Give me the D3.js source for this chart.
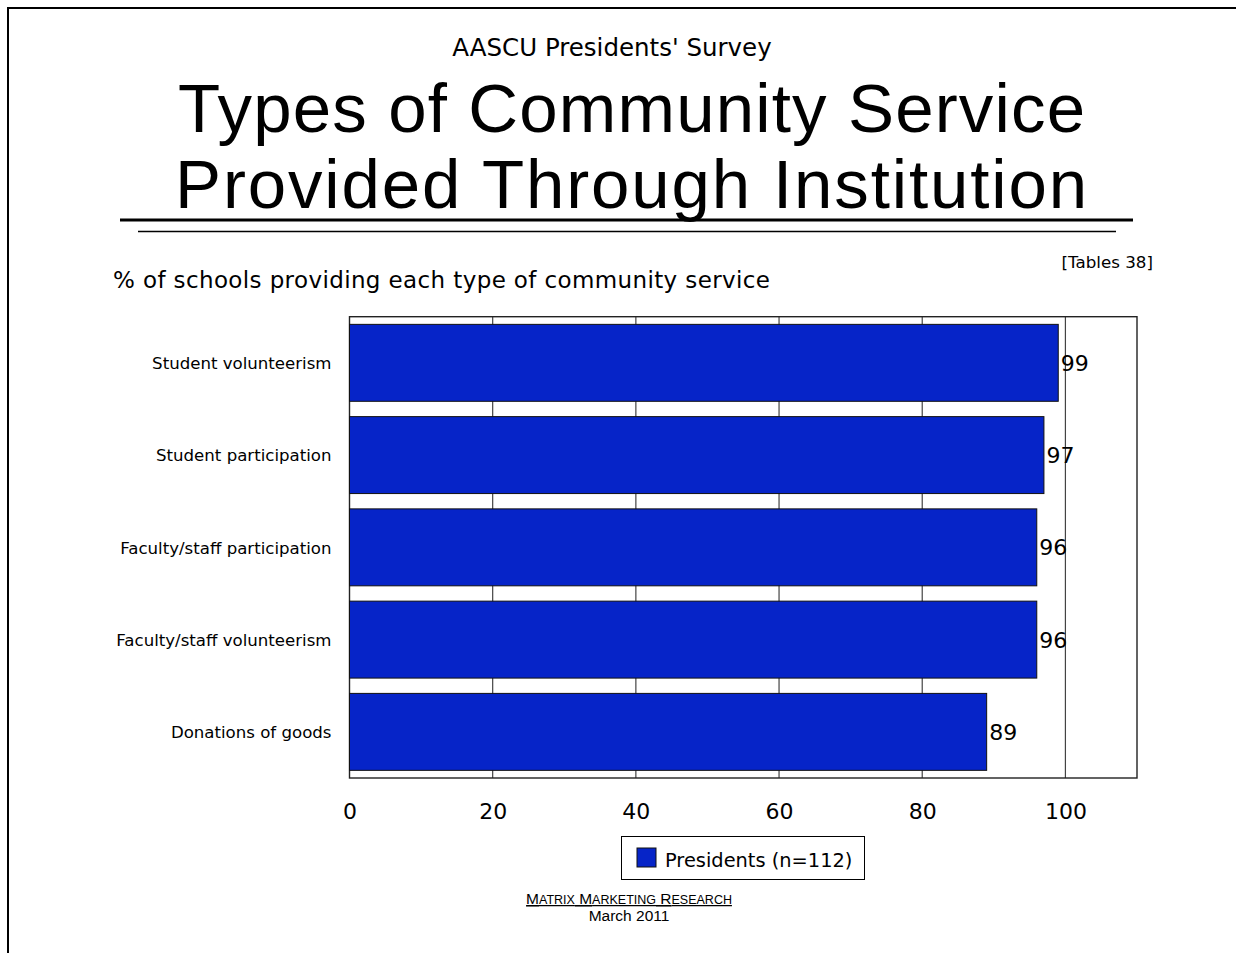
<!DOCTYPE html>
<html>
<head>
<meta charset="utf-8">
<script src="https://cdn.jsdelivr.net/npm/d3@7"></script>
<style>
  html, body { margin: 0; padding: 0; background: #fff; }
  svg { display: block; }
  text { font-family: "DejaVu Sans", Verdana, sans-serif; fill: #000; }
</style>
</head>
<body>
<svg id="chart" width="1236" height="953"></svg>
<script>
// Survey results: share of schools offering each kind of community service
const categories = [
  "Student volunteerism",
  "Student participation",
  "Faculty/staff participation",
  "Faculty/staff volunteerism",
  "Donations of goods"
];
const presidents = [99, 97, 96, 96, 89];
const tickValues = [0, 20, 40, 60, 80, 100];
const seriesName = "Presidents (n=112)";

const svg = d3.select("#chart");
const W = 1236, H = 953;

// Slide frame (top and left edges)
svg.append("path")
  .attr("d", `M8,${H} L8,8 L${W},8`)
  .attr("fill", "none").attr("stroke", "#000").attr("stroke-width", 2);

// Place a text line so that it spans a given width
function fitted(txt, x, y, size, width, family) {
  const t = svg.append("text")
    .attr("x", x).attr("y", y)
    .style("font-size", size + "px")
    .text(txt);
  if (family) t.style("font-family", family);
  const natural = t.node().getComputedTextLength();
  t.attr("textLength", width)
   .attr("lengthAdjust", natural > width ? "spacingAndGlyphs" : "spacing");
  return t;
}

// Headings
svg.append("text")
  .attr("x", 612).attr("y", 56)
  .attr("text-anchor", "middle")
  .style("font-size", "24.5px")
  .text("AASCU Presidents' Survey");

const titleFont = '"Liberation Sans", Arial, sans-serif';
fitted("Types of Community Service", 178, 132, 69, 907, titleFont);
fitted("Provided Through Institution", 175, 208, 69, 912, titleFont);

svg.append("line").attr("x1", 120).attr("x2", 1133).attr("y1", 220).attr("y2", 220)
  .attr("stroke", "#000").attr("stroke-width", 3);
svg.append("line").attr("x1", 138).attr("x2", 1116).attr("y1", 231.5).attr("y2", 231.5)
  .attr("stroke", "#000").attr("stroke-width", 1.5);

svg.append("text")
  .attr("x", 1153).attr("y", 268)
  .attr("text-anchor", "end")
  .style("font-size", "16.7px")
  .text("[Tables 38]");

fitted("% of schools providing each type of community service", 113, 288, 23, 657);

// Plot area
const plot = { left: 349.5, top: 316.7, right: 1137, bottom: 778 };

const x = d3.scaleLinear().domain([0, 110]).range([plot.left, plot.right]);
const y = d3.scaleBand().domain(categories)
  .range([plot.top, plot.bottom])
  .paddingInner(0.166).paddingOuter(0.083);

// Vertical gridlines
svg.append("g").selectAll("line")
  .data(tickValues.filter(d => d > 0))
  .join("line")
  .attr("x1", d => x(d)).attr("x2", d => x(d))
  .attr("y1", plot.top).attr("y2", plot.bottom)
  .attr("stroke", "#444").attr("stroke-width", 1.2);

svg.append("rect")
  .attr("x", plot.left).attr("y", plot.top)
  .attr("width", plot.right - plot.left).attr("height", plot.bottom - plot.top)
  .attr("fill", "none").attr("stroke", "#222").attr("stroke-width", 1.4);

// Bars
svg.append("g").selectAll("rect")
  .data(categories)
  .join("rect")
  .attr("x", x(0))
  .attr("y", d => y(d))
  .attr("width", (d, i) => x(presidents[i]) - x(0))
  .attr("height", y.bandwidth())
  .attr("fill", "#0624C8")
  .attr("stroke", "#111").attr("stroke-width", 1);

// Value labels
svg.append("g").selectAll("text")
  .data(categories)
  .join("text")
  .attr("x", (d, i) => x(presidents[i]) + 2.5)
  .attr("y", d => y(d) + y.bandwidth() / 2)
  .attr("dy", "0.36em")
  .style("font-size", "22px")
  .text((d, i) => presidents[i]);

// Category labels
const yAxis = d3.axisLeft(y).tickSize(0).tickPadding(18);
const gy = svg.append("g").attr("transform", `translate(${plot.left},1)`).call(yAxis);
gy.select(".domain").remove();
gy.selectAll("text")
  .style("font-family", '"DejaVu Sans", Verdana, sans-serif')
  .style("font-size", "16.6px")
  .attr("fill", "#000");

// Value axis labels
const xAxis = d3.axisBottom(x).tickValues(tickValues).tickSize(0).tickPadding(25);
const gx = svg.append("g").attr("transform", `translate(0,${plot.bottom})`).call(xAxis);
gx.select(".domain").remove();
gx.selectAll("text")
  .style("font-family", '"DejaVu Sans", Verdana, sans-serif')
  .style("font-size", "22px")
  .attr("fill", "#000");

// Legend
svg.append("rect")
  .attr("x", 621.5).attr("y", 836.5).attr("width", 243).attr("height", 43)
  .attr("fill", "#fff").attr("stroke", "#000").attr("stroke-width", 1);
svg.append("rect")
  .attr("x", 637).attr("y", 848).attr("width", 19).attr("height", 19)
  .attr("fill", "#0624C8").attr("stroke", "#111").attr("stroke-width", 1);
svg.append("text")
  .attr("x", 665).attr("y", 867)
  .style("font-size", "19.4px")
  .text(seriesName);

// Footer: company name in small capitals, underlined
const footFont = '"Liberation Sans", Arial, sans-serif';
const foot = svg.append("text")
  .attr("x", 629).attr("y", 904)
  .attr("text-anchor", "middle")
  .style("font-family", footFont)
  .style("text-decoration", "underline");
"Matrix Marketing Research".split(" ").forEach((word, i) => {
  foot.append("tspan").style("font-size", "15.5px").text((i ? " " : "") + word[0]);
  foot.append("tspan").style("font-size", "12.5px").text(word.slice(1).toUpperCase());
});
svg.append("text")
  .attr("x", 629).attr("y", 921)
  .attr("text-anchor", "middle")
  .style("font-family", footFont)
  .style("font-size", "15.5px")
  .text("March 2011");
</script>
</body>
</html>
